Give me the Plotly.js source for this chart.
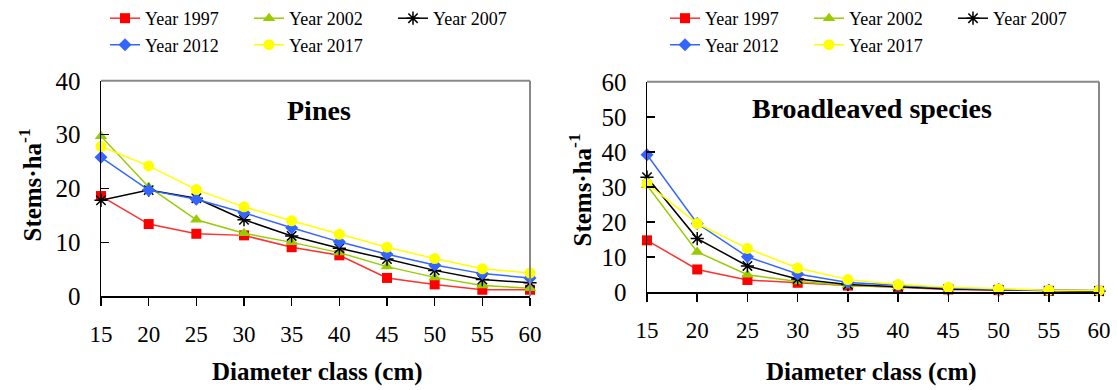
<!DOCTYPE html>
<html>
<head>
<meta charset="utf-8">
<script src="https://cdn.plot.ly/plotly-3.0.1.min.js"></script>
<style>
  html, body { margin: 0; padding: 0; background: #ffffff; }
  #chart { width: 1117px; height: 390px; }
</style>
</head>
<body>
<div id="chart"></div>
<script>
// ---- data ----
const diameterClasses = [15, 20, 25, 30, 35, 40, 45, 50, 55, 60];
const seriesNames = ["Year 1997", "Year 2002", "Year 2007", "Year 2012", "Year 2017"];

// Pines (stems per ha)
const pines1997 = [18.6, 13.4, 11.6, 11.3, 9.1, 7.6, 3.4, 2.2, 1.2, 1.2];
const pines2002 = [29.7, 20.3, 14.2, 11.7, 10.0, 8.1, 5.5, 3.5, 2.0, 1.5];
const pines2007 = [17.8, 19.7, 18.2, 14.2, 11.2, 8.9, 6.9, 4.8, 3.1, 2.5];
const pines2012 = [25.8, 19.7, 18.0, 15.5, 12.7, 10.1, 7.8, 5.8, 4.2, 3.4];
const pines2017 = [27.8, 24.2, 19.8, 16.6, 14.0, 11.5, 9.1, 7.0, 5.1, 4.3];

// Broadleaved species (stems per ha)
const broad1997 = [14.8, 6.5, 3.5, 2.7, 1.9, 1.4, 0.8, 0.6, 0.4, 0.4];
const broad2002 = [30.5, 11.5, 5.0, 3.1, 1.9, 1.4, 1.1, 0.8, 0.5, 0.4];
const broad2007 = [32.8, 15.3, 7.5, 3.8, 2.2, 1.6, 0.9, 0.7, 0.4, 0.3];
const broad2012 = [39.2, 19.6, 10.1, 5.2, 2.8, 1.9, 1.2, 0.8, 0.6, 0.5];
const broad2017 = [31.0, 19.6, 12.5, 6.9, 3.6, 2.2, 1.4, 0.9, 0.6, 0.5];

const panelTitles = ["Pines", "Broadleaved species"];
const xTitle = "Diameter class (cm)";
const yTitle = "Stems·ha<sup>-1</sup>";

// ---- styles ----
const W = 1117, H = 390;
const FONT = '"Liberation Serif", "Times New Roman", Times, serif';
const styles = [
  {color: "#FF0000", symbol: "square", size: 10, lineColor: "#FF3030"},
  {color: "#99CC00", symbol: "triangle-up", size: 11, lineColor: "#99CC00"},
  {color: "#000000", symbol: "asterisk-open", size: 11, lineColor: "#000000"},
  {color: "#3366FF", symbol: "diamond", size: 10, lineColor: "#3366FF"},
  {color: "#FFFF00", symbol: "circle", size: 11, lineColor: "#FFFF00"}
];

const pinesSeries = [pines1997, pines2002, pines2007, pines2012, pines2017];
const broadSeries = [broad1997, broad2002, broad2007, broad2012, broad2017];

function makeTraces(series, xa, ya, legendRow1, legendRow2) {
  return series.map((vals, i) => {
    const s = styles[i];
    const isStar = s.symbol === "asterisk-open";
    return {
      type: "scatter",
      mode: "lines+markers",
      x: diameterClasses,
      y: vals,
      name: seriesNames[i],
      xaxis: xa,
      yaxis: ya,
      legend: i < 3 ? legendRow1 : legendRow2,
      cliponaxis: false,
      line: {color: s.lineColor, width: 1.5},
      marker: {
        symbol: s.symbol,
        size: s.size,
        color: s.color,
        line: {color: isStar ? "#000000" : s.color, width: isStar ? 1.5 : 0}
      }
    };
  });
}

const data = [].concat(
  makeTraces(pinesSeries, "x", "y", "legend", "legend2"),
  makeTraces(broadSeries, "x2", "y2", "legend3", "legend4")
);

// pixel -> paper helpers
const px = v => v / W;
const py = v => 1 - v / H;

const xaxisBase = {
  range: [15, 60],
  tickmode: "array",
  tickvals: diameterClasses,
  ticktext: diameterClasses.map(String),
  ticks: "outside",
  ticklen: 8,
  tickwidth: 1.5,
  tickcolor: "#000",
  showline: true,
  linecolor: "#000",
  linewidth: 1.5,
  showgrid: false,
  zeroline: false,
  ticklabelstandoff: 9,
  tickfont: {family: FONT, size: 23, color: "#000"},
  fixedrange: true
};
const yaxisBase = {
  ticks: "inside",
  ticklen: 8,
  tickwidth: 1.5,
  tickcolor: "#000",
  showline: true,
  linecolor: "#000",
  linewidth: 1.5,
  showgrid: false,
  zeroline: false,
  ticklabelstandoff: 14,
  tickfont: {family: FONT, size: 25, color: "#000"},
  fixedrange: true
};

const legendBase = {
  orientation: "h",
  xanchor: "left",
  yanchor: "middle",
  entrywidth: 99,
  bgcolor: "rgba(0,0,0,0)",
  borderwidth: 0,
  font: {family: FONT, size: 18, color: "#000"},
  itemclick: false,
  itemdoubleclick: false
};

const frameColor = "#888888";
function frameShapes(xr, yr) {
  return [
    {type: "line", xref: xr + " domain", yref: yr + " domain", x0: 0, x1: 1, y0: 1, y1: 1,
     line: {color: frameColor, width: 2}},
    {type: "line", xref: xr + " domain", yref: yr + " domain", x0: 1, x1: 1, y0: 0, y1: 1,
     line: {color: frameColor, width: 2}}
  ];
}

const layout = {
  width: W,
  height: H,
  margin: {l: 0, r: 0, t: 0, b: 0, pad: 0},
  paper_bgcolor: "#ffffff",
  plot_bgcolor: "#ffffff",
  font: {family: FONT, color: "#000"},
  showlegend: true,
  xaxis: Object.assign({}, xaxisBase, {domain: [px(101), px(530)], anchor: "y"}),
  yaxis: Object.assign({}, yaxisBase, {domain: [py(296), py(80)], range: [0, 40], dtick: 10, anchor: "x"}),
  xaxis2: Object.assign({}, xaxisBase, {domain: [px(647), px(1099)], anchor: "y2"}),
  yaxis2: Object.assign({}, yaxisBase, {domain: [py(292), py(81)], range: [0, 60], dtick: 10, anchor: "x2"}),
  legend: Object.assign({}, legendBase, {x: px(105), y: py(18)}),
  legend2: Object.assign({}, legendBase, {x: px(105), y: py(45)}),
  legend3: Object.assign({}, legendBase, {x: px(665), y: py(18)}),
  legend4: Object.assign({}, legendBase, {x: px(665), y: py(45)}),
  shapes: [].concat(frameShapes("x", "y"), frameShapes("x2", "y2")),
  annotations: [
    {text: "<b>" + panelTitles[0] + "</b>", xref: "paper", yref: "paper", x: px(319), y: py(110),
     xanchor: "center", yanchor: "middle", showarrow: false, font: {family: FONT, size: 28, color: "#000"}},
    {text: "<b>" + panelTitles[1] + "</b>", xref: "paper", yref: "paper", x: px(872), y: py(108),
     xanchor: "center", yanchor: "middle", showarrow: false, font: {family: FONT, size: 28, color: "#000"}},
    {text: "<b>" + xTitle + "</b>", xref: "paper", yref: "paper", x: px(317), y: py(372),
     xanchor: "center", yanchor: "middle", showarrow: false, font: {family: FONT, size: 25, color: "#000"}},
    {text: "<b>" + xTitle + "</b>", xref: "paper", yref: "paper", x: px(871), y: py(372),
     xanchor: "center", yanchor: "middle", showarrow: false, font: {family: FONT, size: 25, color: "#000"}},
    {text: "<b>" + yTitle + "</b>", xref: "paper", yref: "paper", x: px(30), y: py(185), textangle: -90,
     xanchor: "center", yanchor: "middle", showarrow: false, font: {family: FONT, size: 25, color: "#000"}},
    {text: "<b>" + yTitle + "</b>", xref: "paper", yref: "paper", x: px(580), y: py(190), textangle: -90,
     xanchor: "center", yanchor: "middle", showarrow: false, font: {family: FONT, size: 25, color: "#000"}}
  ]
};

Plotly.newPlot("chart", data, layout, {displayModeBar: false, staticPlot: true});
</script>
</body>
</html>
